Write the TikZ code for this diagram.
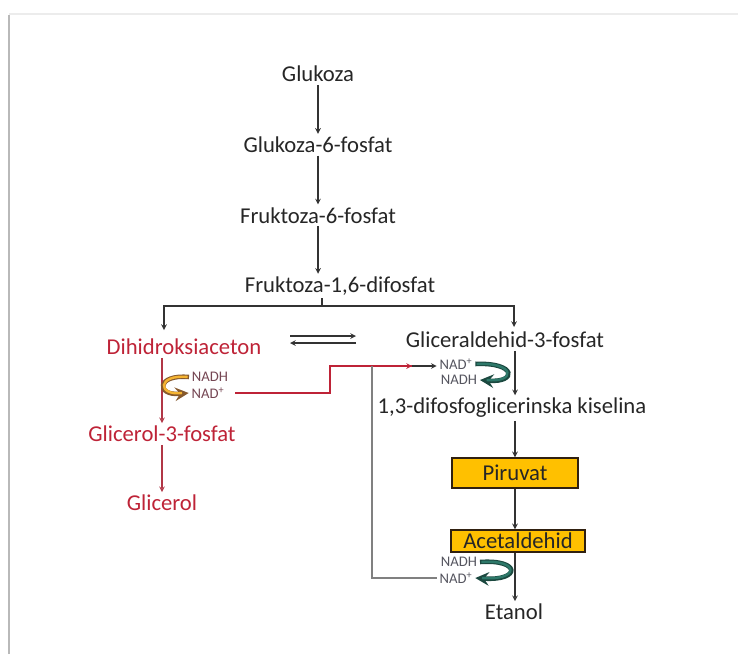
\documentclass[tikz,border=0pt]{standalone}
\usepackage{fontspec}
\setmainfont{Carlito}
\usepackage{tikz}
\usetikzlibrary{positioning}
\definecolor{myred}{RGB}{190,35,55}
\definecolor{myteal}{RGB}{45,120,105}
\definecolor{myorange}{RGB}{245,180,50}
\definecolor{mygold}{RGB}{255,192,0}
\definecolor{mygray}{RGB}{85,85,95}

\begin{document}
\begin{tikzpicture}[x=0.75pt, y=-0.75pt, >=stealth, node distance=53pt,
    lbl/.style={font=\fontsize{17}{20}\selectfont, inner sep=2pt, text=black!85},
    nad/.style={font=\fontsize{11}{12}\selectfont, inner sep=0pt, text=mygray},
    box/.style={lbl, draw=black!75!brown, line width=1.6pt, fill=mygold, minimum height=22pt},
    flow/.style={->, line width=0.9pt, black!80}]
        \useasboundingbox (0,0) rectangle (738,654);
        % frame of the screenshot
        \draw[gray!55, line width=2.2pt] (9,654) -- (9,15);
        \draw[gray!15, line width=1.6pt] (9,14) -- (738,14);

        \node[lbl] (glu) at (318,74) {Glukoza};
        \node[lbl] (g6p) [below of=glu] {Glukoza-6-fosfat};
        \node[lbl] (f6p) [below of=g6p] {Fruktoza-6-fosfat};
        \node[lbl] (f16) at (340,286) {Fruktoza-1,6-difosfat};
        \node[lbl, text=myred] (dha) at (184,347) {Dihidroksiaceton};
        \node[lbl] (gap) at (505,340) {Gliceraldehid-3-fosfat};
        \node[lbl] (bpg) at (512,408) {1,3-difosfoglicerinska kiselina};
        \node[box, minimum width=94pt] (pir) at (515,473) {Piruvat};
        \node[box, minimum width=100pt, minimum height=16pt, inner sep=0pt] (ace) at (518,541) {Acetaldehid};
        \node[lbl] (eta) at (514,612) {Etanol};
        \node[lbl, text=myred] (g3p) at (162,434) {Glicerol-3-fosfat};
        \node[lbl, text=myred] (gly) at (162,503) {Glicerol};

        \node[nad, text=mygray!70!myred] (nadh1) at (210,377) {NADH};
        \node[nad, text=mygray!70!myred] (nad1) at (208,393) {NAD\textsuperscript{+}};
        \node[nad] (nad2) at (456,364) {NAD\textsuperscript{+}};
        \node[nad] (nadh2) at (459,380) {NADH};
        \node[nad] (nadh3) at (459,562) {NADH};
        \node[nad] (nad3) at (456,578) {NAD\textsuperscript{+}};

        \coordinate (split) at (322,306);
        \coordinate (dhain) at (164,330);
        \coordinate (gapin) at (514,327);
        \coordinate (eq1) at (290,336);
        \coordinate (eq2) at (356,336);
        \coordinate (eq3) at (290,343);
        \coordinate (eq4) at (356,343);
        \coordinate (knee) at (330,393);
        \coordinate (redtip) at (412,366);
        \coordinate (fork) at (372,366);

        % glycolysis
        \draw[flow] (glu) -- (g6p);
        \draw[flow] (g6p) -- (f6p);
        \draw[flow] (f6p.south) -- (f6p.south |- f16.north);
        \draw[line width=0.9pt, black!80] (f16.south -| split) -- (split);
        \draw[flow] (split) -| (dhain);
        \draw[flow] (split) -| (gapin);
        \draw[flow] (eq1) -- (eq2);
        \draw[flow] (eq4) -- (eq3);
        \draw[flow] (gap.south -| pir.north) -- (bpg.north -| pir.north);
        \draw[flow] (bpg.south -| pir.north) -- (pir.north);
        \draw[flow] (pir) -- (pir.south |- ace.north);
        \draw[flow] (ace.south -| pir.north) -- (eta.north -| pir.north);

        % glycerol branch
        \draw[flow, myred!80!gray] (dha.south -| g3p.north) -- (g3p.north);
        \draw[flow, myred!80!gray] (g3p) -- (gly);
        \draw[line width=3.4pt, brown!70!black, ->] ([xshift=-2pt]nadh1.west) .. controls (156,374) and (156,396) .. ([xshift=-2pt]nad1.west);
        \draw[line width=1.8pt, myorange] ([xshift=-3pt]nadh1.west) .. controls (157,374) and (157,396) .. ([xshift=-7pt]nad1.west);

        % NADH back to the right side
        \draw[line width=0.9pt, myred] ([xshift=8pt]nad1.east) -- (knee) |- (redtip);
        \draw[->, line width=0.9pt, myred] (fork) -- (redtip);
        \draw[flow] (redtip) -- ([xshift=-2pt]redtip -| nad2.west);
        \draw[line width=0.9pt, gray] (fork) |- ([xshift=-2pt]nad3.west);

        \draw[line width=3.4pt, myteal!60!black, ->] ([xshift=2pt]nad2.east) .. controls (517,362) and (517,383) .. ([xshift=2pt]nadh2.east);
        \draw[line width=1.8pt, myteal] ([xshift=3pt]nad2.east) .. controls (516,362) and (516,383) .. ([xshift=7pt]nadh2.east);
        \draw[line width=3.4pt, myteal!60!black, ->] ([xshift=2pt]nadh3.east) .. controls (521,559) and (521,581) .. ([xshift=2pt]nad3.east);
        \draw[line width=1.8pt, myteal] ([xshift=3pt]nadh3.east) .. controls (520,559) and (520,581) .. ([xshift=7pt]nad3.east);
  \end{tikzpicture}
\end{document}
